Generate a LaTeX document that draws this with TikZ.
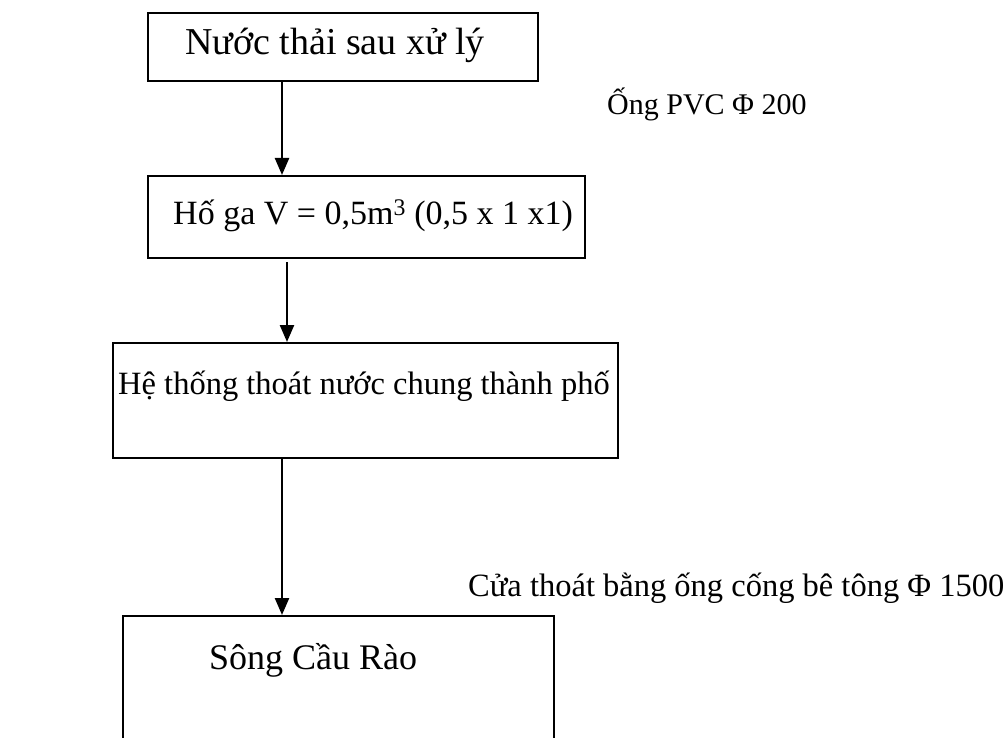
\documentclass[tikz,border=0pt]{standalone}
\usepackage{fontspec}
\setmainfont{Liberation Serif}
\usetikzlibrary{arrows.meta}
\begin{document}
\begin{tikzpicture}[x=1pt,y=1pt,
  box/.style={draw, line width=1.8pt, anchor=north west, inner sep=0pt},
  boxtext/.style={inner sep=0pt},
  note/.style={inner sep=0pt, anchor=west},
  flow/.style={line width=2.4pt, -{Triangle[length=17pt,width=14pt]}}]
\useasboundingbox (0,0) rectangle (1006,-738);
\clip (0,0) rectangle (1006,-738);

% process boxes
\node[box, minimum width=390, minimum height=68] (b1) at (147,-12) {};
\node[box, minimum width=437, minimum height=82] (b2) at (147,-175) {};
\node[box, minimum width=505, minimum height=115] (b3) at (112,-342) {};
\node[box, minimum width=431, minimum height=160] (b4) at (122,-615) {};

% box texts
\node[boxtext, font=\fontsize{38}{44}\selectfont] (t1) at (335,-45) {Nước thải sau xử lý};
\node[boxtext, font=\fontsize{34}{40}\selectfont, anchor=west] (t2) at (173,-216) {Hố ga V = 0,5m\textsuperscript{3} (0,5 x 1 x1)};
\node[boxtext, font=\fontsize{32.5}{38}\selectfont, anchor=west] (t3) at (118,-386) {Hệ thống thoát nước chung thành phố};
\node[boxtext, font=\fontsize{36}{42}\selectfont] (t4) at (313,-660) {Sông Cầu Rào};

% side notes
\node[note, font=\fontsize{30}{35}\selectfont] (n1) at (607,-104) {Ống PVC Φ 200};
\node[note, font=\fontsize{32.5}{38}\selectfont] (n2) at (468,-588) {Cửa thoát bằng ống cống bê tông Φ 1500};

% connector columns
\coordinate (c1) at (282,0);
\coordinate (c2) at (287,0);
\coordinate (c3) at (282,0);
\coordinate (s2) at (0,-262);

\draw[flow] (b1.south -| c1) -- (b2.north -| c1);
\draw[flow] (s2 -| c2) -- (b3.north -| c2);
\draw[flow] (b3.south -| c3) -- (b4.north -| c3);
\end{tikzpicture}
\end{document}
